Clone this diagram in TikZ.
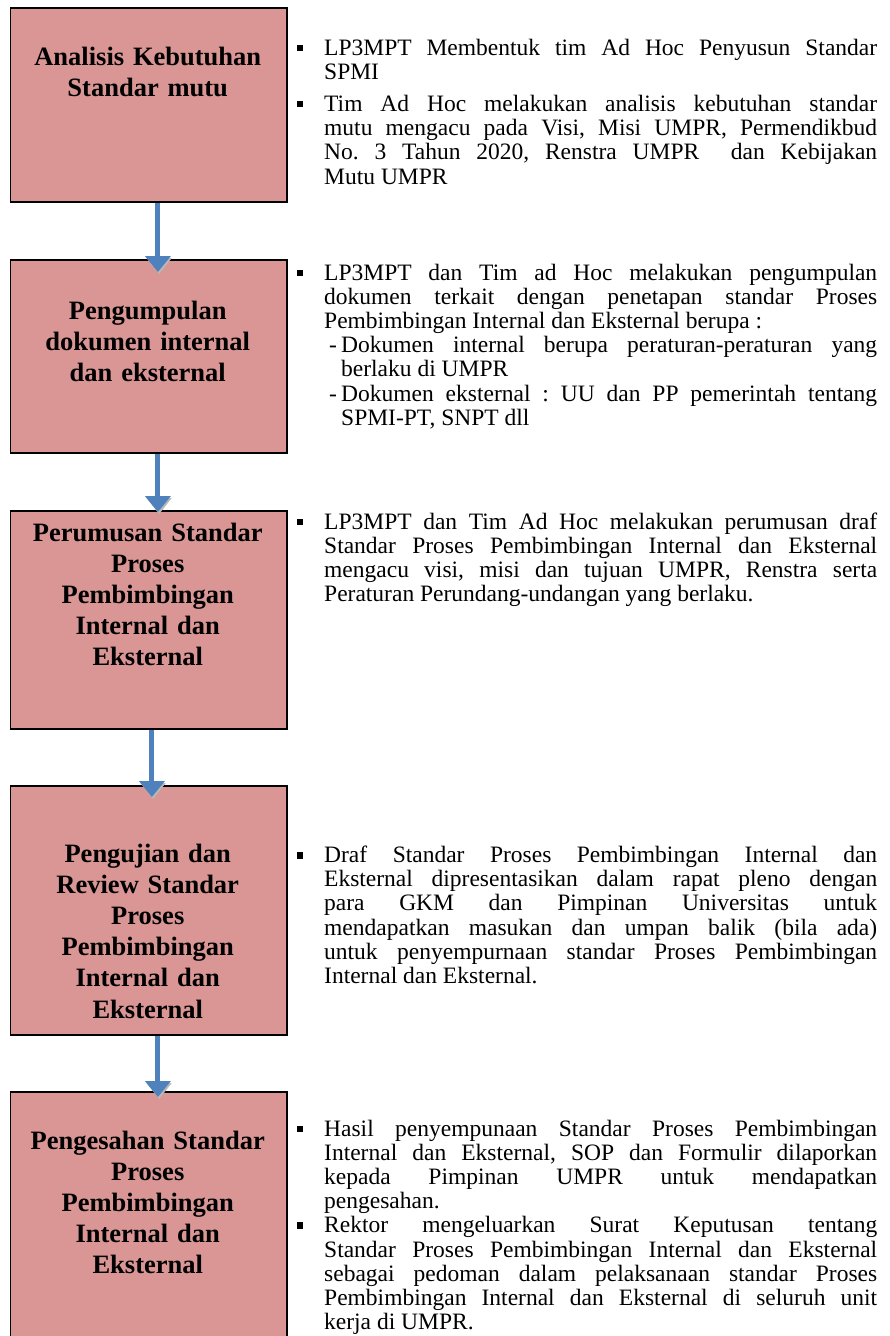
\documentclass[tikz,border=0pt]{standalone}
\usepackage{fontspec}
\setmainfont{Liberation Serif}
\usetikzlibrary{arrows.meta}
\definecolor{boxfill}{HTML}{D99694}
\definecolor{arrblue}{HTML}{4F81BD}
\tolerance=10000
\hyphenpenalty=10000
\frenchspacing
\tikzset{
  stepbox/.style={draw=black, line width=1.8pt, fill=boxfill, minimum width=276.5pt, anchor=north west, inner sep=0pt},
  boxtext/.style={text width=262pt, align=center, anchor=base, inner sep=0pt, font=\fontsize{26.5}{31.2}\selectfont\bfseries},
  desc/.style={text width=553pt, anchor=base west, inner sep=0pt, align=justify, font=\fontsize{23.5}{24.2}\selectfont\frenchspacing},
  flow/.style={draw=arrblue, line width=5pt, -{Triangle[width=25pt,length=16pt]}},
  flowshadow/.style={draw=black!28, line width=0.5pt, -{Triangle[width=25pt,length=16pt]}},
}
\newcommand{\sqb}{\leavevmode\llap{\rule[4pt]{6.5pt}{6.5pt}\hspace{20.75pt}}}
\newcommand{\subdash}{\par\hangindent=17pt\hangafter=1\noindent\hspace*{5pt}\makebox[12pt][l]{-}}
\begin{document}
\begin{tikzpicture}[x=1pt,y=-1pt]
\useasboundingbox (0,0) rectangle (890,1336);
% boxes
\node[stepbox, minimum height=194pt] (b1) at (9.5,7) {};
\node[stepbox, minimum height=193pt] (b2) at (9.5,259) {};
\node[stepbox, minimum height=218pt] (b3) at (9.5,510) {};
\node[stepbox, minimum height=249pt] (b4) at (9.5,785) {};
\node[stepbox, minimum height=262pt] (b5) at (9.5,1091) {};
% box texts
\node[boxtext] (t1) at (147.75,65) {Analisis Kebutuhan\\Standar mutu};
\node[boxtext] (t2) at (147.75,319) {Pengumpulan\\dokumen internal\\dan eksternal};
\node[boxtext] (t3) at (147.75,541) {Perumusan Standar\\Proses\\Pembimbingan\\Internal dan\\Eksternal};
\node[boxtext] (t4) at (147.75,862) {Pengujian dan\\Review Standar\\Proses\\Pembimbingan\\Internal dan\\Eksternal};
\node[boxtext] (t5) at (147.75,1149) {Pengesahan Standar\\Proses\\Pembimbingan\\Internal dan\\Eksternal};
% arrow shadows
\draw[flowshadow] ([xshift=10.5pt,yshift=-12pt]b2.north) -- ([xshift=10.5pt,yshift=-15pt]b2.north);
\draw[flowshadow] ([xshift=10.5pt,yshift=-1pt]b3.north) -- ([xshift=10.5pt,yshift=-4pt]b3.north);
\draw[flowshadow] ([xshift=4.5pt,yshift=-11pt]b4.north) -- ([xshift=4.5pt,yshift=-14pt]b4.north);
\draw[flowshadow] ([xshift=10.5pt,yshift=-5pt]b5.north) -- ([xshift=10.5pt,yshift=-8pt]b5.north);
% arrows
\draw[flow] ([xshift=9.25pt]b1.south) -- ([xshift=9.25pt,yshift=-13pt]b2.north);
\draw[flow] ([xshift=9.25pt]b2.south) -- ([xshift=9.25pt,yshift=-2pt]b3.north);
\draw[flow] ([xshift=3.25pt]b3.south) -- ([xshift=3.25pt,yshift=-12pt]b4.north);
\draw[flow] ([xshift=9.25pt]b4.south) -- ([xshift=9.25pt,yshift=-6pt]b5.north);
% descriptions
\node[desc] (d1) at (324,55) {\sqb LP3MPT Membentuk tim Ad Hoc Penyusun Standar\linebreak SPMI\par\vspace{8pt}
\sqb Tim Ad Hoc melakukan analisis kebutuhan standar\linebreak mutu mengacu pada Visi, Misi UMPR, Permendikbud\linebreak No. 3 Tahun 2020, Renstra UMPR\ \ dan Kebijakan\linebreak Mutu UMPR\par};
\node[desc] (d2) at (324,280) {\sqb LP3MPT dan Tim ad Hoc melakukan pengumpulan\linebreak dokumen terkait dengan penetapan standar Proses\linebreak Pembimbingan Internal dan Eksternal berupa :
\subdash Dokumen internal berupa peraturan-peraturan yang\linebreak berlaku di UMPR
\subdash Dokumen eksternal : UU dan PP pemerintah tentang\linebreak SPMI-PT, SNPT dll\par};
\node[desc] (d3) at (324,529) {\sqb LP3MPT dan Tim Ad Hoc melakukan perumusan draf\linebreak Standar Proses Pembimbingan Internal dan Eksternal\linebreak mengacu visi, misi dan tujuan UMPR, Renstra serta\linebreak Peraturan Perundang-undangan yang berlaku.\par};
\node[desc] (d4) at (324,862.5) {\sqb Draf Standar Proses Pembimbingan Internal dan\linebreak Eksternal dipresentasikan dalam rapat pleno dengan\linebreak para GKM dan Pimpinan Universitas untuk\linebreak mendapatkan masukan dan umpan balik (bila ada)\linebreak untuk penyempurnaan standar Proses Pembimbingan\linebreak Internal dan Eksternal.\par};
\node[desc] (d5) at (324,1136) {\sqb Hasil penyempunaan Standar Proses Pembimbingan\linebreak Internal dan Eksternal, SOP dan Formulir dilaporkan\linebreak kepada Pimpinan UMPR untuk mendapatkan\linebreak pengesahan.\par
\sqb Rektor mengeluarkan Surat Keputusan tentang\linebreak Standar Proses Pembimbingan Internal dan Eksternal\linebreak sebagai pedoman dalam pelaksanaan standar Proses\linebreak Pembimbingan Internal dan Eksternal di seluruh unit\linebreak kerja di UMPR.\par};
\end{tikzpicture}
\end{document}
